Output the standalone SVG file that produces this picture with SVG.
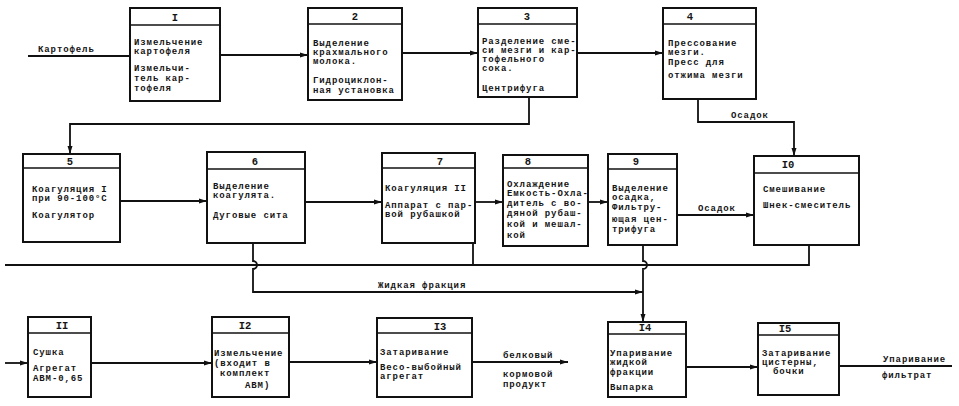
<svg xmlns="http://www.w3.org/2000/svg" width="959" height="406" viewBox="0 0 959 406">
<defs>
<style>
.box{fill:#fff;stroke:#111;stroke-width:2}
.hd{stroke:#111;stroke-width:1.5}
.c{fill:none;stroke:#111;stroke-width:1.8}
text{font-family:"Liberation Mono","DejaVu Sans Mono",monospace;font-weight:bold;font-size:9px;letter-spacing:0.9px;fill:#151515}
.n{text-anchor:middle;font-size:10.5px;letter-spacing:0}
</style>
<marker id="ah" markerWidth="8" markerHeight="6" refX="8" refY="3" orient="auto" markerUnits="userSpaceOnUse">
<path d="M0,0.5 L8,3 L0,5.5 Z" fill="#111"/>
</marker>
</defs>
<rect width="959" height="406" fill="#fff"/>

<g id="connectors">
<path class="c" d="M28,56 H130"/>
<path class="c" d="M220,55 H308" marker-end="url(#ah)"/>
<path class="c" d="M402,53 H478" marker-end="url(#ah)"/>
<path class="c" d="M577,53 H663" marker-end="url(#ah)"/>
<path class="c" d="M529,97 V124 H70 V154" marker-end="url(#ah)"/>
<path class="c" d="M698,99 V122 H794 V156" marker-end="url(#ah)"/>
<path class="c" d="M120,201 H207" marker-end="url(#ah)"/>
<path class="c" d="M305,202 H382" marker-end="url(#ah)"/>
<path class="c" d="M475,202 H503" marker-end="url(#ah)"/>
<path class="c" d="M588,202 H608" marker-end="url(#ah)"/>
<path class="c" d="M677,215 H754" marker-end="url(#ah)"/>
<path class="c" d="M5,265 H809 V245"/>
<path class="c" d="M473,243 V265"/>
<path class="c" d="M253,243 V261 A4,4 0 0 1 253,269 V292 H643"/>
<path class="c" d="M627,292 H643" marker-end="url(#ah)"/>
<path class="c" d="M643,245 V261 A4,4 0 0 1 643,269 V322" marker-end="url(#ah)"/>
<path class="c" d="M5,363 H28" marker-end="url(#ah)"/>
<path class="c" d="M91,363 H212" marker-end="url(#ah)"/>
<path class="c" d="M289,362 H377" marker-end="url(#ah)"/>
<path class="c" d="M472,362 H568" marker-end="url(#ah)"/>
<path class="c" d="M686,367 H758" marker-end="url(#ah)"/>
<path class="c" d="M839,366 H952"/>
<text x="38" y="52">Картофель</text>
<text x="731" y="118">Осадок</text>
<text x="698" y="211">Осадок</text>
<text x="378" y="288">Жидкая фракция</text>
<text x="503" y="358">белковый</text>
<text x="503" y="377">кормовой</text>
<text x="503" y="387">продукт</text>
<text x="883" y="362">Упаривание</text>
<text x="882" y="378">фильтрат</text>
</g>

<g id="n1">
<rect class="box" x="130" y="8" width="90" height="93"/>
<line class="hd" x1="130" y1="25" x2="220" y2="25"/>
<text class="n" x="175" y="21">I</text>
<text x="134" y="45">Измельчение</text>
<text x="134" y="54">картофеля</text>
<text x="134" y="71">Измельчи-</text>
<text x="134" y="81">тель кар-</text>
<text x="134" y="91">тофеля</text>
</g>

<g id="n2">
<rect class="box" x="308" y="8" width="94" height="92"/>
<line class="hd" x1="308" y1="24" x2="402" y2="24"/>
<text class="n" x="355" y="20">2</text>
<text x="313" y="46">Выделение</text>
<text x="313" y="55">крахмального</text>
<text x="313" y="64">молока.</text>
<text x="313" y="83">Гидроциклон-</text>
<text x="313" y="93">ная установка</text>
</g>

<g id="n3">
<rect class="box" x="478" y="8" width="99" height="89"/>
<line class="hd" x1="478" y1="24" x2="577" y2="24"/>
<text class="n" x="527" y="20">3</text>
<text x="482" y="44">Разделение сме-</text>
<text x="482" y="53">си мезги и кар-</text>
<text x="482" y="62">тофельного</text>
<text x="482" y="71">сока.</text>
<text x="482" y="91">Центрифуга</text>
</g>

<g id="n4">
<rect class="box" x="663" y="8" width="93" height="91"/>
<line class="hd" x1="663" y1="24" x2="756" y2="24"/>
<text class="n" x="690" y="20">4</text>
<text x="668" y="46">Прессование</text>
<text x="668" y="55">мезги.</text>
<text x="668" y="65">Пресс для</text>
<text x="668" y="78">отжима мезги</text>
</g>

<g id="n5">
<rect class="box" x="23" y="154" width="97" height="88"/>
<line class="hd" x1="23" y1="168" x2="120" y2="168"/>
<text class="n" x="70" y="165">5</text>
<text x="32" y="192">Коагуляция I</text>
<text x="32" y="201">при 90-100°С</text>
<text x="32" y="218">Коагулятор</text>
</g>

<g id="n6">
<rect class="box" x="207" y="152" width="98" height="91"/>
<line class="hd" x1="207" y1="169" x2="305" y2="169"/>
<text class="n" x="255" y="165">6</text>
<text x="213" y="189">Выделение</text>
<text x="213" y="198">коагулята.</text>
<text x="213" y="218">Дуговые сита</text>
</g>

<g id="n7">
<rect class="box" x="382" y="153" width="93" height="90"/>
<line class="hd" x1="382" y1="168" x2="475" y2="168"/>
<text class="n" x="440" y="165">7</text>
<text x="385" y="191">Коагуляция II</text>
<text x="385" y="208">Аппарат с пар-</text>
<text x="385" y="217">вой рубашкой</text>
</g>

<g id="n8">
<rect class="box" x="503" y="155" width="85" height="91"/>
<line class="hd" x1="503" y1="168" x2="588" y2="168"/>
<text class="n" x="528" y="165">8</text>
<text x="507" y="187">Охлаждение</text>
<text x="507" y="196">Емкость-Охла-</text>
<text x="507" y="206">дитель с во-</text>
<text x="507" y="216">дяной рубаш-</text>
<text x="507" y="227">кой и мешал-</text>
<text x="507" y="238">кой</text>
</g>

<g id="n9">
<rect class="box" x="608" y="154" width="69" height="91"/>
<line class="hd" x1="608" y1="169" x2="677" y2="169"/>
<text class="n" x="636" y="165">9</text>
<text x="612" y="191">Выделение</text>
<text x="612" y="200">осадка,</text>
<text x="612" y="210">Фильтру-</text>
<text x="612" y="222">ющая цен-</text>
<text x="612" y="232">трифуга</text>
</g>

<g id="n10">
<rect class="box" x="754" y="156" width="105" height="89"/>
<line class="hd" x1="754" y1="173" x2="859" y2="173"/>
<text class="n" x="788" y="168">I0</text>
<text x="763" y="192">Смешивание</text>
<text x="763" y="208">Шнек-смеситель</text>
</g>

<g id="n11">
<rect class="box" x="28" y="317" width="63" height="80"/>
<line class="hd" x1="28" y1="333" x2="91" y2="333"/>
<text class="n" x="62" y="329">II</text>
<text x="33" y="355">Сушка</text>
<text x="33" y="371">Агрегат</text>
<text x="33" y="381">АВМ-0,65</text>
</g>

<g id="n12">
<rect class="box" x="212" y="317" width="77" height="80"/>
<line class="hd" x1="212" y1="333" x2="289" y2="333"/>
<text class="n" x="245" y="329">I2</text>
<text x="214" y="356">Измельчение</text>
<text x="214" y="366">(входит в</text>
<text x="220" y="376">комплект</text>
<text x="245" y="388">АВМ)</text>
</g>

<g id="n13">
<rect class="box" x="377" y="318" width="95" height="79"/>
<line class="hd" x1="377" y1="333" x2="472" y2="333"/>
<text class="n" x="440" y="330">I3</text>
<text x="380" y="355">Затаривание</text>
<text x="380" y="370">Весо-выбойный</text>
<text x="380" y="379">агрегат</text>
</g>

<g id="n14">
<rect class="box" x="608" y="322" width="78" height="75"/>
<line class="hd" x1="608" y1="334" x2="686" y2="334"/>
<text class="n" x="645" y="331">I4</text>
<text x="610" y="356">Упаривание</text>
<text x="610" y="365">жидкой</text>
<text x="610" y="375">фракции</text>
<text x="610" y="390">Выпарка</text>
</g>

<g id="n15">
<rect class="box" x="758" y="323" width="81" height="72"/>
<line class="hd" x1="758" y1="335" x2="839" y2="335"/>
<text class="n" x="785" y="332">I5</text>
<text x="762" y="356">Затаривание</text>
<text x="762" y="365">цистерны,</text>
<text x="773" y="374">бочки</text>
</g>
</svg>
